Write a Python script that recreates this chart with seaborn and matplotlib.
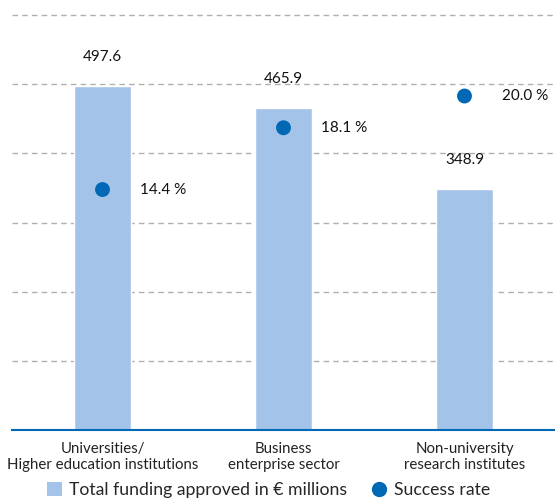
import seaborn as sns
import matplotlib.pyplot as plt
import pandas as pd
from matplotlib.patches import Patch
from matplotlib.lines import Line2D

categories = ['Universities/\nHigher education institutions',
              'Business\nenterprise sector',
              'Non-university\nresearch institutes']
funding = [497.6, 465.9, 348.9]
success_rate = [14.4, 18.1, 20.0]

BAR_COLOR = '#a3c4e8'
DOT_COLOR = '#0068b4'

if __name__ == '__main__':
    sns.set_style('white')
    plt.rcParams['font.family'] = ['Lato', 'DejaVu Sans']

    df = pd.DataFrame({'category': categories, 'funding': funding, 'rate': success_rate})

    fig = plt.figure(figsize=(5.55, 5.0), dpi=100)
    pos = [12 / 555, 70 / 500, 543 / 555, 430 / 500]
    ax = fig.add_axes(pos)
    sns.barplot(data=df, x='category', y='funding', color=BAR_COLOR, width=0.31,
                saturation=1, ax=ax)
    ax.set_xlim(-0.5, 2.5)
    ax.set_ylim(0, 622)
    ax.set_yticks([100, 200, 300, 400, 500, 600])
    ax.yaxis.grid(True, color='#b0b0b0', linestyle=(0, (4, 3)), linewidth=1)
    ax.set_axisbelow(True)
    for s in ['top', 'right', 'left']:
        ax.spines[s].set_visible(False)
    ax.spines['bottom'].set_color(DOT_COLOR)
    ax.spines['bottom'].set_linewidth(1.5)
    ax.tick_params(axis='y', left=False, labelleft=False)
    ax.tick_params(axis='x', bottom=False, labelsize=10.8, pad=5, colors='#222222')
    ax.set_xlabel('')
    ax.set_ylabel('')
    for lbl in ax.get_xticklabels():
        lbl.set_linespacing(1.2)

    for i, v in enumerate(funding):
        ax.annotate(f'{v:.1f}', (i, v), xytext=(0, 21), textcoords='offset points',
                    ha='center', va='center', fontsize=11, color='#111111')

    ax2 = fig.add_axes(pos, sharex=ax)
    ax2.patch.set_visible(False)
    sns.scatterplot(data=df, x='category', y='rate', color=DOT_COLOR, s=115,
                    edgecolor='none', ax=ax2, zorder=5)
    ax2.set_ylim(0, 25.75)
    ax2.axis('off')
    for i, v in enumerate(success_rate):
        ax2.annotate(f'{v:.1f} %', (i, v), xytext=(27, 0), textcoords='offset points',
                     ha='left', va='center', fontsize=11, color='#111111')

    handles = [Patch(facecolor=BAR_COLOR, edgecolor='none', label='Total funding approved in € millions'),
               Line2D([], [], marker='o', linestyle='none', markersize=11,
                      markerfacecolor=DOT_COLOR, markeredgecolor='none', label='Success rate')]
    fig.legend(handles=handles, loc='center', bbox_to_anchor=(0.484, 0.02), ncol=2,
               frameon=False, fontsize=12.7, handlelength=0.85, handleheight=0.85,
               handletextpad=0.4, columnspacing=1.4, borderaxespad=0)

    fig.savefig('out.png', dpi=100)
